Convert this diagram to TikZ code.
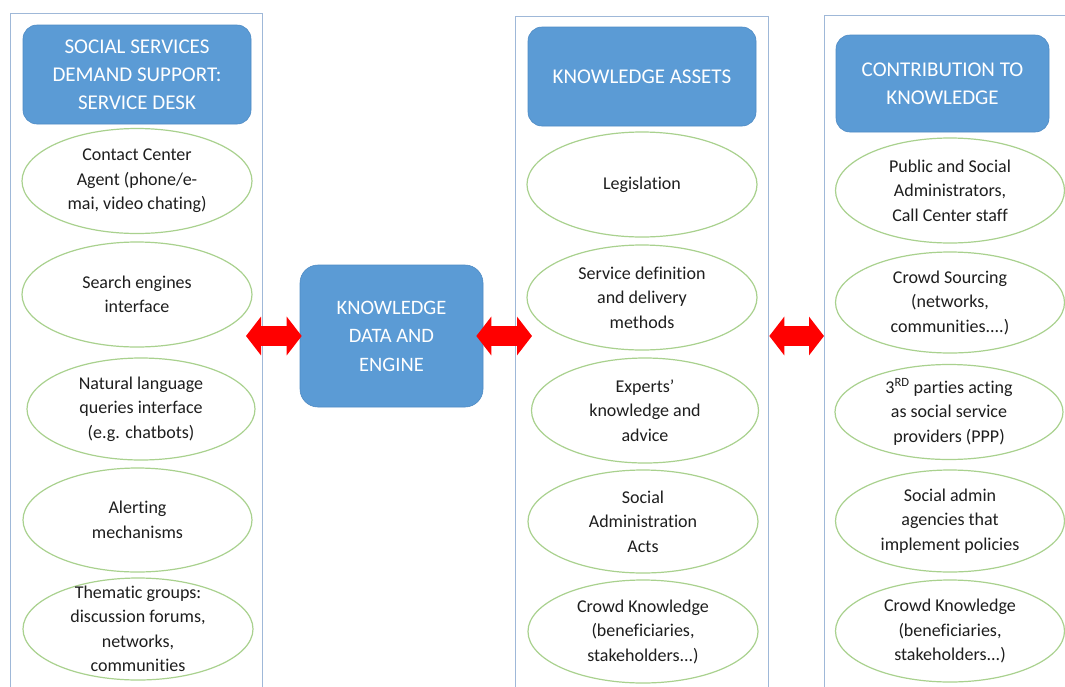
\documentclass[tikz,border=0pt]{standalone}
\usepackage{fontspec}
\setmainfont{Carlito}[Ligatures=NoCommon]
\usetikzlibrary{shapes.geometric,arrows.meta}
\definecolor{hdrblue}{HTML}{5B9BD5}
\definecolor{hdredge}{HTML}{4F8BC4}
\definecolor{panelline}{HTML}{9FB8D8}
\definecolor{ellgreen}{HTML}{A9D18E}
\definecolor{txtgrey}{HTML}{1E1E1E}
\definecolor{arrowred}{HTML}{FF0000}
\tikzset{
  panel/.style={draw=panelline, line width=1.3pt, rectangle, inner sep=0pt, anchor=north west},
  hdr/.style={rectangle, fill=hdrblue, draw=hdredge, line width=0.6pt, rounded corners=14pt,
    text=white, font=\fontsize{21}{28}\selectfont, align=center, inner sep=0pt},
  ell/.style={ellipse, draw=ellgreen, line width=1.2pt, inner sep=0pt},
  lbl/.style={text=txtgrey, font=\fontsize{18}{24.5}\selectfont, align=center, inner sep=0pt},
  bigarrow/.style={draw=arrowred, line width=20pt,
    {Triangle[length=15pt,width=38pt]}-{Triangle[length=15pt,width=38pt]}}
}
\begin{document}
\begin{tikzpicture}[x=1pt,y=-1pt]
\useasboundingbox (0,0) rectangle (1065,686);
\clip (0,0) rectangle (1065,686);
\fill[white] (0,0) rectangle (1065,686);

% panels
\node[panel, minimum width=252pt, minimum height=720pt] (p1) at (10,13) {};
\node[panel, minimum width=253pt, minimum height=720pt] (p2) at (515,16) {};
\node[panel, minimum width=300pt, minimum height=720pt] (p3) at (824,15) {};

% headers
\node[hdr, minimum width=228pt, minimum height=99pt] (h1) at (137,74.5) {SOCIAL SERVICES\\DEMAND SUPPORT:\\SERVICE DESK};
\node[hdr, minimum width=228pt, minimum height=99pt] (h2) at (642,76.5) {KNOWLEDGE ASSETS};
\node[hdr, minimum width=213pt, minimum height=97pt] (h3) at (942.5,83.5) {CONTRIBUTION TO\\KNOWLEDGE};

% centre box
\node[hdr, font=\fontsize{20.5}{28.5}\selectfont, minimum width=183pt, minimum height=142pt, rounded corners=18pt] (kde) at (391.5,336) {KNOWLEDGE\\DATA AND\\ENGINE};

% column 1
\node[ell, minimum width=230pt, minimum height=105pt] (c1a) at (137,181) {};
\node[lbl] at (c1a) {Contact Center\\Agent (phone/e-\\mai, video chating)};
\node[ell, minimum width=230pt, minimum height=105pt] (c1b) at (137,294.5) {};
\node[lbl] at (c1b) {Search engines\\interface};
\node[ell, minimum width=228pt, minimum height=102pt] (c1c) at (141,409) {};
\node[lbl] at (c1c) {Natural language\\queries interface\\(e.g. chatbots)};
\node[ell, minimum width=229pt, minimum height=104pt] (c1d) at (137.5,520) {};
\node[lbl] at (c1d) {Alerting\\mechanisms};
\node[ell, minimum width=230pt, minimum height=102pt] (c1e) at (138,629) {};
\node[lbl] at (c1e) {Thematic groups:\\discussion forums,\\networks,\\communities};

% column 2
\node[ell, minimum width=230pt, minimum height=105pt] (c2a) at (642,184.5) {};
\node[lbl] at (c2a) {Legislation};
\node[ell, minimum width=230pt, minimum height=105pt] (c2b) at (642,297.5) {};
\node[lbl] at (c2b) {Service definition\\and delivery\\methods};
\node[ell, minimum width=227pt, minimum height=105pt] (c2c) at (645,410.5) {};
\node[lbl] at (c2c) {Experts’\\knowledge and\\advice};
\node[ell, minimum width=230pt, minimum height=103pt] (c2d) at (643,521.5) {};
\node[lbl] at (c2d) {Social\\Administration\\Acts};
\node[ell, minimum width=230pt, minimum height=103pt] (c2e) at (643,631.5) {};
\node[lbl] at (c2e) {Crowd Knowledge\\(beneficiaries,\\stakeholders...)};

% column 3
\node[ell, minimum width=229pt, minimum height=105pt] (c3a) at (950,190.5) {};
\node[lbl] at (c3a) {Public and Social\\Administrators,\\Call Center staff};
\node[ell, minimum width=229pt, minimum height=101pt] (c3b) at (950,302.5) {};
\node[lbl] at (c3b) {Crowd Sourcing\\(networks,\\communities....)};
\node[ell, minimum width=228pt, minimum height=95pt] (c3c) at (949,412) {};
\node[lbl] at (c3c) {3\textsuperscript{RD} parties acting\\as social service\\providers (PPP)};
\node[ell, minimum width=229pt, minimum height=102pt] (c3d) at (950,521) {};
\node[lbl] at (c3d) {Social admin\\agencies that\\implement policies};
\node[ell, minimum width=229pt, minimum height=102pt] (c3e) at (950,631) {};
\node[lbl] at (c3e) {Crowd Knowledge\\(beneficiaries,\\stakeholders...)};

% arrows
\coordinate (a1s) at (246,336);
\coordinate (a2e) at (532,336);
\draw[bigarrow, shorten >=-2pt] (a1s) -- (kde.west);
\draw[bigarrow] ([xshift=-7pt]kde.east) -- (a2e);
\draw[bigarrow] (p2.east |- kde) -- (p3.west |- kde);
\end{tikzpicture}
\end{document}
